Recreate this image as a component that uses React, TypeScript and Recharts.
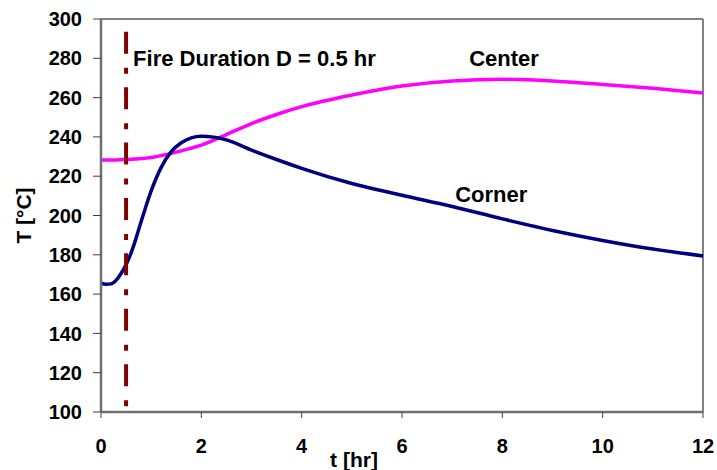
import React from "react";
import {
  LineChart,
  Line,
  XAxis,
  YAxis,
  ReferenceLine,
  ReferenceDot,
} from "recharts";

const times = [0, 0.1, 0.2, 0.3, 0.4, 0.5, 0.6, 0.7, 0.8, 0.9, 1.0, 1.2, 1.4, 1.6, 1.8, 2.0, 2.5, 3, 3.5, 4, 5, 6, 7, 8, 9, 10, 11, 12];
const cornerTemp = [165.5, 165.0, 165.2, 167.0, 170.5, 175.0, 181.0, 188.5, 197.0, 205.0, 212.5, 224.5, 232.5, 237.0, 239.5, 240.3, 238.5, 233.3, 228.5, 224.0, 216.3, 210.3, 204.6, 198.3, 192.4, 187.3, 182.9, 179.4];
const centerTemp = [228.3, 228.3, 228.3, 228.3, 228.4, 228.5, 228.6, 228.8, 229.0, 229.2, 229.5, 230.5, 231.6, 232.9, 234.3, 235.8, 241.2, 246.8, 251.4, 255.4, 261.3, 265.9, 268.5, 269.3, 268.5, 266.7, 264.7, 262.3];

const fireTime = [0.5, 0.5];
const fireTemp = [293.5, 100];

const xTicks = [0, 2, 4, 6, 8, 10, 12];
const yTicks = [100, 120, 140, 160, 180, 200, 220, 240, 260, 280, 300];

const rows = times.map((t, i) => ({ t, corner: cornerTemp[i], center: centerTemp[i] }));
const fireRows = fireTime.map((t, i) => ({ t, fire: fireTemp[i] }));

const FONT = "Arial, 'Liberation Sans', sans-serif";

function TextAt(text: string) {
  return (props: any) => {
    const vb = props.viewBox || {};
    return (
      <text
        x={vb.x}
        y={vb.y}
        fontFamily={FONT}
        fontWeight="bold"
        fontSize={22}
        fill="#000"
        textAnchor="start"
      >
        {text}
      </text>
    );
  };
}

function YLabel(props: any) {
  const vb = props.viewBox || {};
  const x = vb.x + 23;
  const y = vb.y + vb.height / 2;
  return (
    <text
      x={x}
      y={y}
      transform={`rotate(-90 ${x} ${y})`}
      textAnchor="middle"
      dominantBaseline="central"
      fontFamily={FONT}
      fontWeight="bold"
      fontSize={21}
      fill="#000"
    >
      T [°C]
    </text>
  );
}

function XLabel(props: any) {
  const vb = props.viewBox || {};
  return (
    <text
      x={vb.x + 253}
      y={467}
      textAnchor="middle"
      fontFamily={FONT}
      fontWeight="bold"
      fontSize={21}
      fill="#000"
    >
      t [hr]
    </text>
  );
}

const tickStyle = { fontFamily: FONT, fontWeight: "bold", fontSize: 20, fill: "#000" };

export default function App() {
  return (
    <div style={{ position: "absolute", left: 0, top: 0, background: "#fff" }}>
      <LineChart
        width={717}
        height={470}
        margin={{ top: 19, right: 14, bottom: 0, left: 0 }}
      >
        <XAxis
          dataKey="t"
          type="number"
          domain={[0, 12]}
          ticks={xTicks}
          allowDuplicatedCategory={false}
          height={58}
          tickSize={6}
          tickMargin={21}
          tick={tickStyle}
          axisLine={{ stroke: "#707070", strokeWidth: 2.5 }}
          tickLine={{ stroke: "#404040" }}
          label={{ content: XLabel }}
        />
        <YAxis
          type="number"
          domain={[100, 300]}
          ticks={yTicks}
          width={101}
          tickSize={8}
          tickMargin={11}
          tick={tickStyle}
          axisLine={{ stroke: "#707070", strokeWidth: 2.5 }}
          tickLine={{ stroke: "#404040" }}
          label={{ content: YLabel }}
        />
        <ReferenceLine y={300} stroke="#808080" strokeWidth={2} />
        <ReferenceLine x={12} stroke="#808080" strokeWidth={2} />
        <Line
          data={rows}
          dataKey="center"
          type="monotone"
          stroke="#FF00FF"
          strokeWidth={3.5}
          dot={false}
          isAnimationActive={false}
        />
        <Line
          data={rows}
          dataKey="corner"
          type="monotone"
          stroke="#000080"
          strokeWidth={3.5}
          dot={false}
          isAnimationActive={false}
        />
        <Line
          data={fireRows}
          dataKey="fire"
          type="linear"
          stroke="#800000"
          strokeWidth={4}
          strokeDasharray="22 14 6 13.4"
          dot={false}
          isAnimationActive={false}
        />
        <ReferenceDot x={0.64} y={276.2} r={0} stroke="none" fill="none" label={{ content: TextAt("Fire Duration D = 0.5 hr") }} />
        <ReferenceDot x={7.34} y={276.1} r={0} stroke="none" fill="none" label={{ content: TextAt("Center") }} />
        <ReferenceDot x={7.06} y={206.9} r={0} stroke="none" fill="none" label={{ content: TextAt("Corner") }} />
      </LineChart>
    </div>
  );
}
